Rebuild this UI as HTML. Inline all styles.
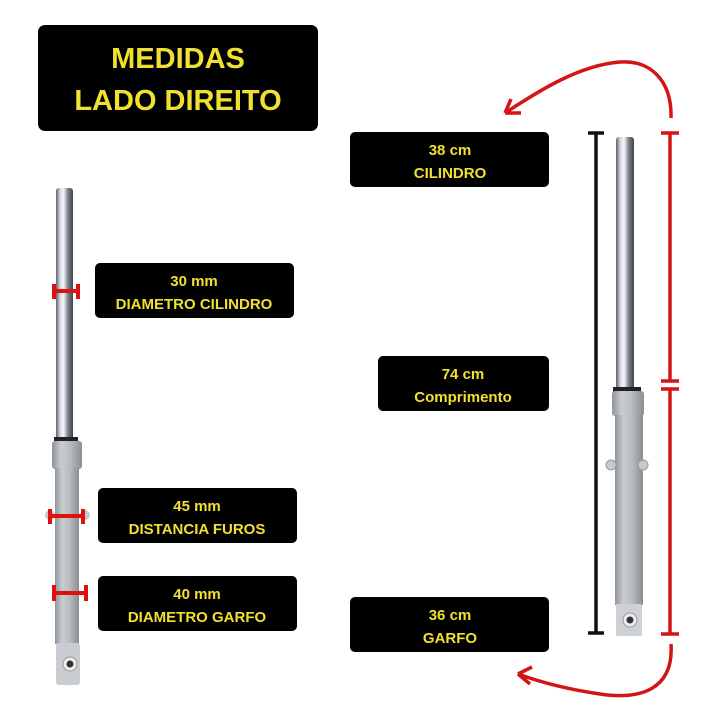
<!DOCTYPE html>
<html><head><meta charset="utf-8"><style>
html,body{margin:0;padding:0;background:#fff;}
svg{display:block;}
text{font-family:"Liberation Sans",sans-serif;font-weight:bold;fill:#f0e130;text-anchor:middle;}
</style></head><body>
<svg width="721" height="721" viewBox="0 0 721 721" xmlns="http://www.w3.org/2000/svg">
<defs>
<linearGradient id="chrome" x1="0" x2="1" y1="0" y2="0">
<stop offset="0" stop-color="#5a5f66"/><stop offset="0.25" stop-color="#d9dde2"/><stop offset="0.45" stop-color="#f4f6f8"/><stop offset="0.7" stop-color="#7d838b"/><stop offset="1" stop-color="#3e434a"/>
</linearGradient>
<linearGradient id="silver" x1="0" x2="1" y1="0" y2="0">
<stop offset="0" stop-color="#8f949a"/><stop offset="0.3" stop-color="#c9ccd0"/><stop offset="0.6" stop-color="#b9bcc0"/><stop offset="1" stop-color="#8a8e94"/>
</linearGradient>
</defs>
<rect width="721" height="721" fill="#fff"/>
<!-- title -->
<rect x="38" y="25" width="280" height="106" rx="7" fill="#000"/>
<text x="178" y="68" font-size="29">MEDIDAS</text>
<text x="178" y="110" font-size="29">LADO DIREITO</text>
<!-- label boxes -->
<rect x="350" y="132" width="199" height="55" rx="5" fill="#000"/>
<text x="450" y="155" font-size="15">38 cm</text><text x="450" y="178" font-size="15">CILINDRO</text>
<rect x="378" y="356" width="171" height="55" rx="5" fill="#000"/>
<text x="463" y="379" font-size="15">74 cm</text><text x="463" y="402" font-size="15">Comprimento</text>
<rect x="350" y="597" width="199" height="55" rx="5" fill="#000"/>
<text x="450" y="620" font-size="15">36 cm</text><text x="450" y="643" font-size="15">GARFO</text>
<rect x="95" y="263" width="199" height="55" rx="5" fill="#000"/>
<text x="194" y="286" font-size="15">30 mm</text><text x="194" y="309" font-size="15">DIAMETRO CILINDRO</text>
<rect x="98" y="488" width="199" height="55" rx="5" fill="#000"/>
<text x="197" y="511" font-size="15">45 mm</text><text x="197" y="534" font-size="15">DISTANCIA FUROS</text>
<rect x="98" y="576" width="199" height="55" rx="5" fill="#000"/>
<text x="197" y="599" font-size="15">40 mm</text><text x="197" y="622" font-size="15">DIAMETRO GARFO</text>
<!-- left fork -->
<rect x="56" y="188" width="17" height="252" rx="3" fill="url(#chrome)"/>
<rect x="54" y="437" width="24" height="5" fill="#222"/>
<rect x="52" y="441" width="30" height="28" rx="3" fill="url(#silver)"/>
<rect x="55" y="468" width="24" height="176" fill="url(#silver)"/>
<circle cx="50" cy="515" r="5" fill="#c7c9cc"/><circle cx="85" cy="515" r="5" fill="#c7c9cc"/>
<rect x="56" y="643" width="24" height="42" rx="3" fill="#c9ccd0"/>
<circle cx="70" cy="664" r="7" fill="#eee" stroke="#999"/><circle cx="70" cy="664" r="3.5" fill="#333"/>
<g stroke="#e01010" stroke-width="4" fill="none">
<path d="M55 291H77M54 284v15M78 284v15"/>
<path d="M49 516H83M50 509v15M83 509v15"/>
<path d="M53 593H86M54 585v16M86 585v16"/>
</g>
<!-- right fork -->
<rect x="616" y="137" width="18" height="253" rx="3" fill="url(#chrome)"/>
<rect x="613" y="387" width="28" height="5" fill="#222"/>
<rect x="612" y="391" width="32" height="25" rx="3" fill="url(#silver)"/>
<rect x="615" y="415" width="28" height="190" fill="url(#silver)"/>
<circle cx="611" cy="465" r="5" fill="#c7c9cc" stroke="#999"/><circle cx="643" cy="465" r="5" fill="#c7c9cc" stroke="#999"/>
<rect x="616" y="604" width="26" height="32" rx="2" fill="#cdd0d4"/>
<circle cx="630" cy="620" r="7" fill="#eee" stroke="#999"/><circle cx="630" cy="620" r="3.5" fill="#333"/>
<!-- black dimension -->
<g stroke="#111" stroke-width="3.5" fill="none">
<path d="M596 133V633M588 133h16M588 633h16"/>
</g>
<!-- red dimension -->
<g stroke="#d41515" stroke-width="3.5" fill="none">
<path d="M670 133V381M670 389V634M661 133h18M661 381h18M661 389h18M661 634h18"/>
<path d="M671 118C672 80 650 60 620 62C580 65 540 90 505 113"/>
<path d="M505 113l16 0M505 113l6 -14"/>
<path d="M671 644C674 690 640 700 600 694C565 689 540 682 518 674"/>
<path d="M518 674l14 -7M518 674l12 10"/>
</g>
</svg>
</body></html>
